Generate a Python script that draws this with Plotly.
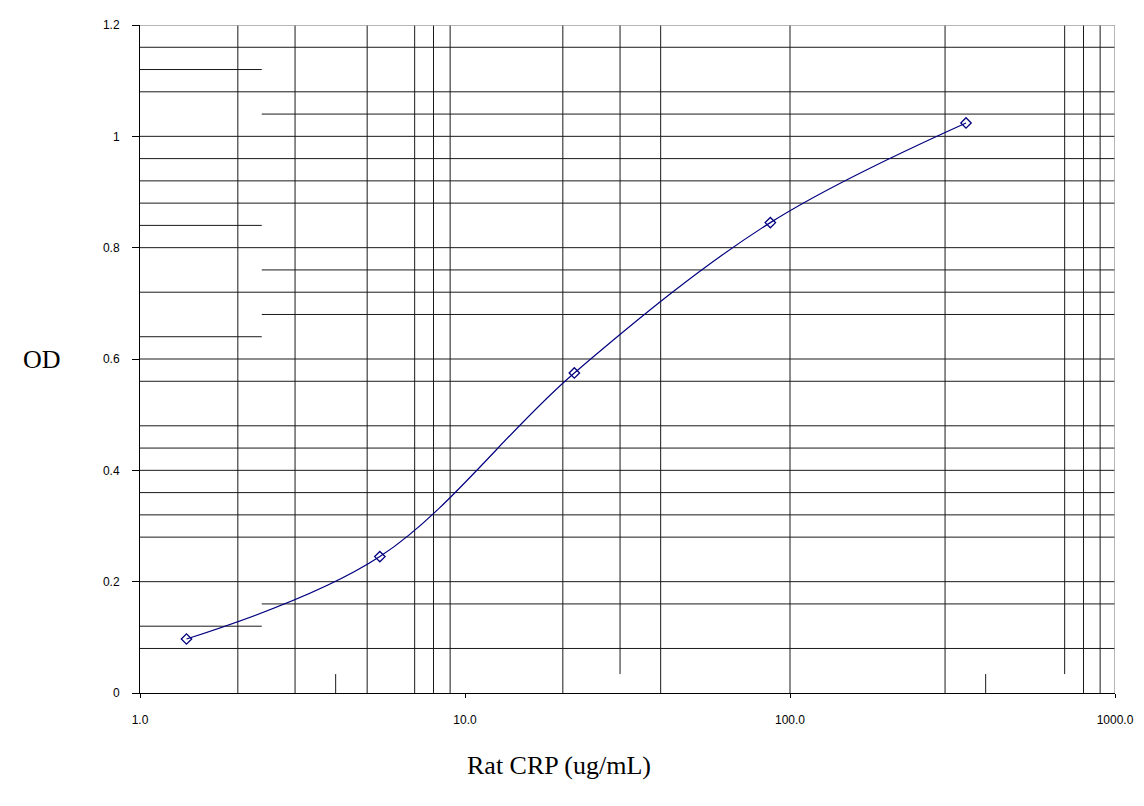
import plotly.graph_objects as go

# Data
conc = [1.39, 5.47, 21.7, 87.0, 348.0]          # Rat CRP (ug/mL)
od = [0.097, 0.245, 0.575, 0.845, 1.024]        # OD

x_tickvals = [1, 10, 100, 1000]
x_ticktext = ["1.0", "10.0", "100.0", "1000.0"]
y_tickvals = [0, 0.2, 0.4, 0.6, 0.8, 1.0, 1.2]
y_ticktext = ["0", "0.2", "0.4", "0.6", "0.8", "1", "1.2"]

# Grid lines as they appear in the reference
v_full = [2, 3, 5, 7, 8, 9, 20, 40, 100, 300, 800, 900]
v_upper = [30, 700]        # from near-zero up to top
v_short = [4, 400]         # short stubs at the bottom
v_break = 0.034
h_full = [1.16, 1.08, 1.0, 0.96, 0.92, 0.88, 0.80, 0.72, 0.60, 0.56,
          0.48, 0.44, 0.40, 0.36, 0.32, 0.28, 0.20, 0.08]
h_left = [1.12, 0.84, 0.64, 0.12]
h_right = [1.04, 0.76, 0.68, 0.16]
h_break = 2.37

X_MIN, X_MAX = 1, 1000
Y_MIN, Y_MAX = 0, 1.2

gx, gy = [], []
for v in v_full:
    gx += [v, v, None]; gy += [Y_MIN, Y_MAX, None]
for v in v_upper:
    gx += [v, v, None]; gy += [v_break, Y_MAX, None]
for v in v_short:
    gx += [v, v, None]; gy += [Y_MIN, v_break, None]
for h in h_full:
    gx += [X_MIN, X_MAX, None]; gy += [h, h, None]
for h in h_left:
    gx += [X_MIN, h_break, None]; gy += [h, h, None]
for h in h_right:
    gx += [h_break, X_MAX, None]; gy += [h, h, None]

fig = go.Figure()
fig.add_trace(go.Scatter(x=gx, y=gy, mode="lines",
                         line=dict(color="#1a1a1a", width=1),
                         hoverinfo="skip", showlegend=False))
# gray top/right border
fig.add_trace(go.Scatter(x=[X_MIN, X_MAX, X_MAX], y=[Y_MAX, Y_MAX, Y_MIN], mode="lines",
                         line=dict(color="#a0a0a0", width=1.5),
                         hoverinfo="skip", showlegend=False))
fig.add_trace(go.Scatter(x=conc, y=od, mode="lines+markers",
                         line=dict(color="#000080", width=1.2, shape="spline", smoothing=1),
                         marker=dict(symbol="diamond-open", size=8,
                                     color="#000080", line=dict(color="#000080", width=1.3)),
                         showlegend=False))

fig.update_layout(
    width=1136, height=798,
    margin=dict(l=132, r=28, t=10, b=113),
    paper_bgcolor="white", plot_bgcolor="white",
    font=dict(family="Liberation Sans, Arial, sans-serif", size=12, color="black"),
    xaxis=dict(type="log", range=[0, 3], showgrid=False, zeroline=False,
               tickmode="array", tickvals=x_tickvals, ticktext=x_ticktext,
               ticks="outside", ticklen=4, tickcolor="black",
               showline=True, linecolor="black", linewidth=1,
               ticklabelstandoff=12),
    yaxis=dict(range=[0, 1.2], showgrid=False, zeroline=False,
               tickmode="array", tickvals=y_tickvals, ticktext=y_ticktext,
               ticks="outside", ticklen=7, tickcolor="black",
               showline=True, linecolor="black", linewidth=1,
               ticklabelstandoff=10),
    annotations=[
        dict(text="OD", xref="paper", yref="paper", x=0, y=0.5,
             xanchor="center", yanchor="middle", showarrow=False,
             xshift=-98, font=dict(family="Liberation Serif, Times New Roman, serif", size=26)),
        dict(text="Rat CRP (ug/mL)", xref="paper", yref="paper", x=0.43, y=0,
             xanchor="center", yanchor="middle", showarrow=False, yshift=-72,
             font=dict(family="Liberation Serif, Times New Roman, serif", size=26)),
    ],
)

fig.write_html("out.html")
